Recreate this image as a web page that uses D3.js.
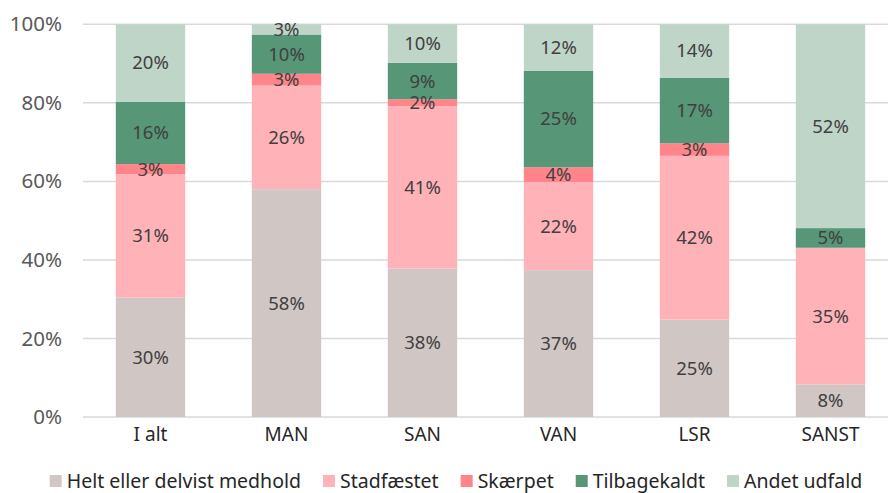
<!DOCTYPE html>
<html>
<head>
<meta charset="utf-8">
<script src="https://cdn.jsdelivr.net/npm/d3@7"></script>
<style>
  body { margin: 0; background: #fff; }
  svg { font-family: "Noto Sans", sans-serif; }
</style>
</head>
<body>
<div id="chart"></div>
<script>
// categories and series (percent of cases)
const categories = ["I alt", "MAN", "SAN", "VAN", "LSR", "SANST"];
const seriesNames = ["Helt eller delvist medhold", "Stadfæstet", "Skærpet", "Tilbagekaldt", "Andet udfald"];
const helt        = [30.4, 58.0, 37.8, 37.4, 24.8, 8.3];
const stadfaestet = [31.4, 26.4, 41.4, 22.4, 41.7, 34.8];
const skaerpet    = [2.6, 3.0, 1.7, 3.8, 3.2, 0];
const tilbage     = [15.9, 10.0, 9.3, 24.6, 16.7, 5.0];
const andet       = [19.7, 2.6, 9.8, 11.8, 13.6, 51.9];
const yTicks = [0, 20, 40, 60, 80, 100];
const colors = ["#D0C6C4", "#FFB2B7", "#FF858A", "#579677", "#BFD5C8"];

const seriesValues = [helt, stadfaestet, skaerpet, tilbage, andet];

const W = 888, H = 493;
const svg = d3.select('#chart').append('svg')
	.attr('width', W)
	.attr('height', H);

// rows for the stack
const rows = categories.map((c, i) => {
	const r = {cat: c};
	seriesNames.forEach((s, k) => r[s] = seriesValues[k][i]);
	return r;
});
const stacked = d3.stack().keys(seriesNames)(rows);

const xScale = d3.scaleBand()
	.domain(categories)
	.range([82.5, 898.5])
	.paddingInner(0.49)
	.paddingOuter(0.245);

const yScale = d3.scaleLinear()
	.domain([0, 100])
	.range([417, 24.3]);

// gridlines
svg.append('g')
	.selectAll('line')
	.data(yTicks)
	.join('line')
	.attr('x1', 83)
	.attr('x2', W)
	.attr('y1', d => yScale(d))
	.attr('y2', d => yScale(d))
	.attr('stroke', '#D9D9D9')
	.attr('stroke-width', 1.5);

// y axis labels
const yAxis = d3.axisLeft(yScale)
	.tickValues(yTicks)
	.tickFormat(d => d + '%')
	.tickSize(0)
	.tickPadding(0);
const yAxisGroup = svg.append('g')
	.attr('transform', 'translate(62,0)')
	.call(yAxis);
yAxisGroup.select('.domain').remove();
yAxisGroup.selectAll('text')
	.attr('font-size', 20.5)
	.attr('font-family', '"Noto Sans", sans-serif')
	.attr('fill', '#595959');

// x axis labels
const xAxis = d3.axisBottom(xScale).tickSize(0).tickPadding(0);
const xAxisGroup = svg.append('g')
	.attr('transform', 'translate(0,427)')
	.call(xAxis);
xAxisGroup.select('.domain').remove();
xAxisGroup.selectAll('text')
	.attr('font-size', 19)
	.attr('font-family', '"Noto Sans", sans-serif')
	.attr('fill', '#262626');

// bars
const layers = svg.append('g')
	.selectAll('g')
	.data(stacked)
	.join('g')
	.attr('fill', (d, i) => colors[i]);

layers.selectAll('rect')
	.data(d => d)
	.join('rect')
	.attr('x', d => xScale(d.data.cat))
	.attr('width', xScale.bandwidth())
	.attr('y', d => yScale(d[1]))
	.attr('height', d => yScale(d[0]) - yScale(d[1]));

// data labels
const labels = svg.append('g');
stacked.forEach(layer => {
	layer.forEach(d => {
		const v = d[1] - d[0];
		if (v <= 0) return;
		labels.append('text')
			.attr('x', xScale(d.data.cat) + xScale.bandwidth() / 2)
			.attr('y', yScale((d[0] + d[1]) / 2))
			.attr('dy', '0.35em')
			.attr('text-anchor', 'middle')
			.attr('font-size', 18.5)
			.attr('fill', '#404040')
			.text(Math.round(v) + '%');
	});
});

// legend
const legend = svg.append('g').attr('transform', 'translate(0,481)');
const items = legend.selectAll('g')
	.data(seriesNames)
	.join('g');
items.append('rect')
	.attr('width', 12)
	.attr('height', 12)
	.attr('y', -6)
	.attr('fill', (d, i) => colors[i]);
items.append('text')
	.attr('x', 17)
	.attr('dy', '0.35em')
	.attr('font-size', 19.5)
	.attr('fill', '#262626')
	.text(d => d);

let xPos = 0;
const widths = [];
items.each(function() {
	widths.push(this.getBBox().width);
});
const gap = 22;
const total = d3.sum(widths) + gap * (widths.length - 1);
xPos = 456 - total / 2;
items.attr('transform', (d, i) => {
	const t = `translate(${xPos},0)`;
	xPos += widths[i] + gap;
	return t;
});
</script>
</body>
</html>
